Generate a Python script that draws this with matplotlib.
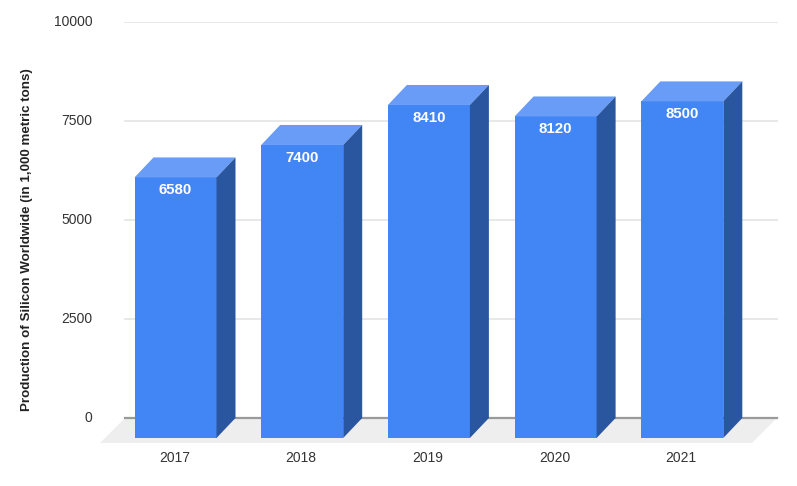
import matplotlib
matplotlib.use("Agg")
import matplotlib.pyplot as plt
from matplotlib.transforms import ScaledTranslation

plt.rcParams['font.family'] = ['Liberation Sans', 'DejaVu Sans']

years = ['2017', '2018', '2019', '2020', '2021']
production = [6580, 7400, 8410, 8120, 8500]
y_ticks = [0, 2500, 5000, 7500, 10000]

W, H = 797, 486
# pixel box of the axes: y=0 sits at 418px and y=10000 at 22px
left, right, top, bottom = 100, 780, 22, 445
PX_PER_UNIT = (418 - 22) / 10000
PITCH = 126.7
FIRST = 175.5

fig = plt.figure(figsize=(W / 100, H / 100), dpi=100)
ax = fig.add_axes([left / W, 1 - bottom / H, (right - left) / W, (bottom - top) / H])
ax.set_ylim(-(bottom - 418) / PX_PER_UNIT, 10000)
ax.set_xlim((left - FIRST) / PITCH, (right - FIRST) / PITCH)
for s in ax.spines.values():
    s.set_visible(False)

bar_w = 82 / PITCH
dx = 19 / PITCH
dy = 20 / PX_PER_UNIT
x0 = (125 - FIRST) / PITCH
x1 = (777 - FIRST) / PITCH

# floor
floor_y = -25 / PX_PER_UNIT
ax.fill([x0, x1, x1 - 25 / PITCH, x0 - 25 / PITCH], [0, 0, floor_y, floor_y],
        color='#eeeeee', lw=0, zorder=1)

for t in y_ticks:
    if t == 0:
        ax.plot([x0, x1], [0, 0], color='#9a9a9a', lw=1.6, zorder=2)
    else:
        ax.plot([x0, x1], [t, t], color='#e6e6e6', lw=1.3, zorder=2)

for i, v in enumerate(production):
    l = i - bar_w / 2
    r = i + bar_w / 2
    base = -dy
    # front
    ax.fill([l, r, r, l], [base, base, base + v, base + v], color='#4285f4', lw=0, zorder=3)
    # top
    ax.fill([l, r, r + dx, l + dx], [base + v, base + v, v, v], color='#689cf6', lw=0, zorder=3)
    # side
    ax.fill([r, r + dx, r + dx, r], [base, 0, v, base + v], color='#2a56a0', lw=0, zorder=3)
    ax.text(i, base + v - 13 / PX_PER_UNIT, str(v), color='white', fontsize=10.8,
            fontweight='bold', ha='center', va='center', zorder=4)

ax.set_xticks(range(len(years)), years)
ax.set_yticks(y_ticks, [str(t) for t in y_ticks])
ax.tick_params(axis='both', length=0, labelsize=10, labelcolor='#333333')
ax.tick_params(axis='x', pad=4)
ax.tick_params(axis='y', pad=5.5)
ax.patch.set_visible(False)

# tick labels sit a little higher / left than matplotlib centres them
up = ScaledTranslation(0, 1.5 / 100, fig.dpi_scale_trans)
for lab in ax.get_yticklabels():
    lab.set_transform(lab.get_transform() + up)
nudge = ScaledTranslation(-1 / 100, 0, fig.dpi_scale_trans)
for lab in ax.get_xticklabels():
    lab.set_transform(lab.get_transform() + nudge)

fig.text(27 / W, 1 - 240 / H, 'Production of Silicon Worldwide (in 1,000 metric tons)',
         rotation=90, fontsize=9.6, fontweight='bold', color='#222222',
         ha='center', va='center')

fig.savefig('out.png', dpi=100)
